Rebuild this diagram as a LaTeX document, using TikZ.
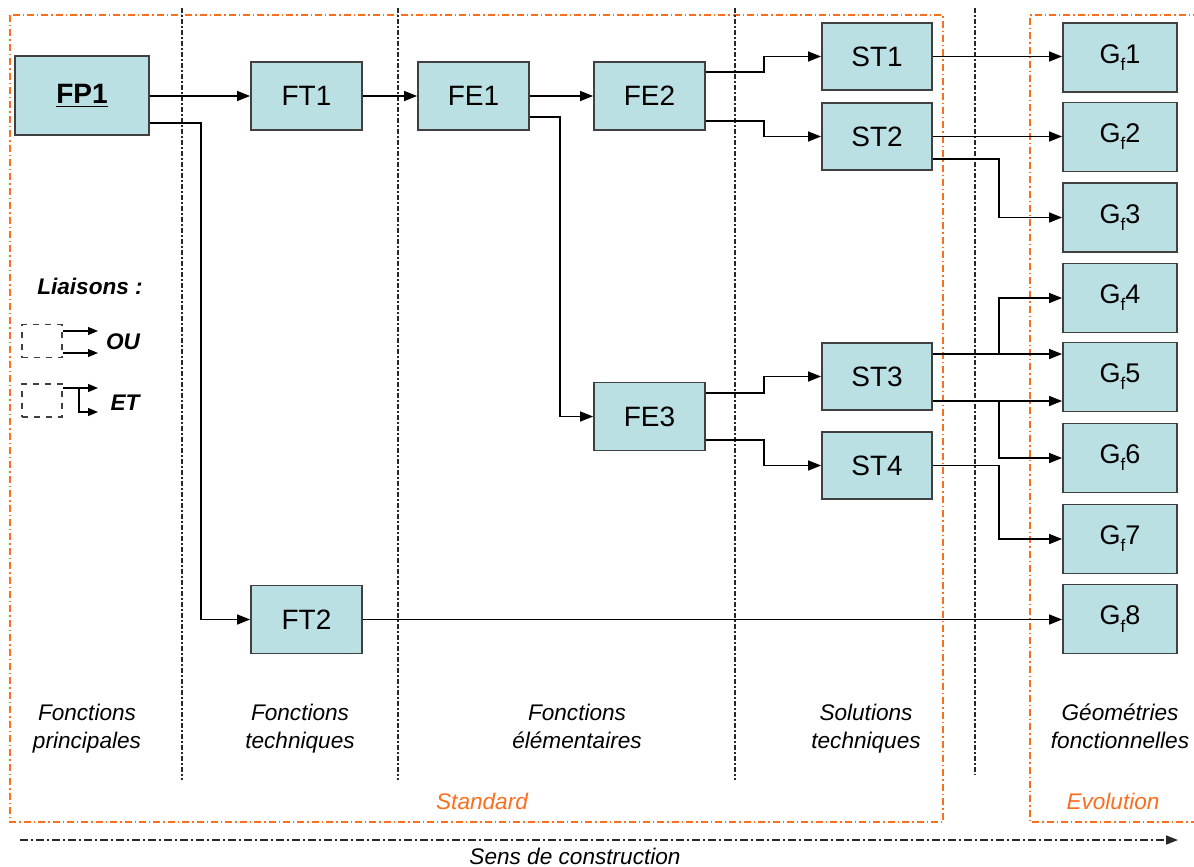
\documentclass[tikz,border=0pt]{standalone}
\usepackage{fontspec}
\setmainfont{Liberation Sans}
\usetikzlibrary{calc,arrows.meta}
\definecolor{boxfill}{RGB}{187,224,227}
\definecolor{boxline}{RGB}{64,64,64}
\definecolor{orng}{RGB}{250,110,30}
\definecolor{sepgray}{RGB}{40,40,40}
\newcommand{\Gsub}[1]{G\raisebox{-0.5ex}{\fontsize{8.5}{8.5}\selectfont f}#1}
\begin{document}
\begin{tikzpicture}[x=0.5pt,y=-0.5pt,
  fbox/.style={draw=boxline,line width=0.9pt,fill=boxfill,inner sep=0pt,
    minimum width=55.5pt,minimum height=34pt,font=\fontsize{14}{16}\selectfont},
  gbox/.style={fbox,minimum width=57pt,minimum height=34.5pt,font=\fontsize{13.5}{16}\selectfont},
  conn/.style={line width=0.75pt,draw=black,-{Triangle[length=6.5pt,width=5pt]}},
  sep/.style={draw=sepgray,line width=0.55pt,dash pattern=on 2.5pt off 1.2pt on 0.6pt off 1.2pt},
  orngbox/.style={draw=orng,line width=0.6pt,dash pattern=on 3.5pt off 1.5pt on 0.7pt off 1.5pt},
  collab/.style={align=center,font=\fontsize{11.3}{14}\selectfont\itshape},
  legtxt/.style={font=\fontsize{11.3}{14}\selectfont\bfseries\itshape},
  orngtxt/.style={text=orng,font=\fontsize{11.3}{14}\selectfont\itshape},
  legbox/.style={draw=boxline,line width=0.6pt,dashed,minimum width=20pt,minimum height=16.5pt,inner sep=0pt},
  legarr/.style={line width=0.6pt,-{Triangle[length=5pt,width=4pt]}}
]
\useasboundingbox (0,0) rectangle (1194,867);

% frames
\draw[orngbox] (10,15) rectangle (943,822);
\draw[orngbox] (1200,15) -- (1030,15) -- (1030,822) -- (1200,822);
\draw[sep] (182,8) -- (182,780);
\draw[sep] (398,8) -- (398,780);
\draw[sep] (735,8) -- (735,780);
\draw[sep] (975,8) -- (975,775);

% boxes
\node[fbox,minimum width=67pt,minimum height=39.5pt,font=\fontsize{14}{16}\selectfont\bfseries] (FP1) at (82,95.5) {\underline{FP1}};
\node[fbox] (FT1) at (306.5,96) {FT1};
\node[fbox] (FT2) at (306.5,619.5) {FT2};
\node[fbox] (FE1) at (473.5,96) {FE1};
\node[fbox] (FE2) at (649.5,96) {FE2};
\node[fbox] (FE3) at (649.5,416.5) {FE3};
\node[fbox,minimum width=55pt,minimum height=33.5pt] (ST1) at (877,56.5) {ST1};
\node[fbox,minimum width=55pt,minimum height=33.5pt] (ST2) at (877,136.5) {ST2};
\node[fbox,minimum width=55pt,minimum height=33.5pt] (ST3) at (877,376.5) {ST3};
\node[fbox,minimum width=55pt,minimum height=33.5pt] (ST4) at (877,465.5) {ST4};
\node[gbox] (G1) at (1120,57.5) {\Gsub{1}};
\node[gbox] (G2) at (1120,137) {\Gsub{2}};
\node[gbox] (G3) at (1120,217.5) {\Gsub{3}};
\node[gbox] (G4) at (1120,298) {\Gsub{4}};
\node[gbox] (G5) at (1120,377) {\Gsub{5}};
\node[gbox] (G6) at (1120,458) {\Gsub{6}};
\node[gbox] (G7) at (1120,539) {\Gsub{7}};
\node[gbox] (G8) at (1120,619) {\Gsub{8}};

% connectors
\draw[conn] (FP1.east |- FT1.west) -- (FT1.west);
\draw[conn] ($(FP1.east)+(0,27.5)$) -- ++(51,0) |- (FT2.west);
\draw[conn] (FT1.east) -- (FE1.west);
\draw[conn] (FE1.east) -- (FE2.west);
\draw[conn] ($(FE1.east)+(0,21)$) -- ++(30,0) |- (FE3.west);
\draw[conn] ($(FE2.east)+(0,-24)$) -- ++(58,0) |- (ST1.west);
\draw[conn] ($(FE2.east)+(0,25)$) -- ++(58,0) |- (ST2.west);
\draw[conn] ($(FE3.east)+(0,-23.5)$) -- ++(58,0) |- (ST3.west);
\draw[conn] ($(FE3.east)+(0,23.5)$) -- ++(58,0) |- (ST4.west);
\draw[conn] (ST1.east) -- (ST1.east -| G1.west);
\draw[conn] (ST2.east) -- (ST2.east -| G2.west);
\draw[conn] ($(ST2.east)+(0,22.5)$) -- ++(66,0) |- (G3.west);
\path ($(ST3.east)+(0,-22.5)$) coordinate (s3a);
\path ($(ST3.east)+(0,24.5)$) coordinate (s3b);
\draw[conn] (s3a) -- ++(66,0) |- (G4.west);
\draw[conn] (s3a) -- (s3a -| G5.west);
\draw[conn] (s3b) -- (s3b -| G5.west);
\draw[conn] (s3b) -- ++(66,0) |- (G6.west);
\draw[conn] (ST4.east) -- ++(66,0) |- (G7.west);
\draw[conn] (FT2.east) -- (FT2.east -| G8.west);

% legend
\node[legtxt] (liai) at (90,286) {Liaisons :};
\node[legbox] (lb1) at (42,341) {};
\node[legbox] (lb2) at (42,400.5) {};
\coordinate (ou1) at (98,331);
\coordinate (ou2) at (98,353);
\coordinate (et1) at (98,388);
\coordinate (et2) at (98,412);
\draw[legarr] (lb1.east |- ou1) -- (ou1);
\draw[legarr] (lb1.east |- ou2) -- (ou2);
\draw[legarr] (lb2.east |- et1) -- (et1);
\draw[legarr] (79,388) |- (et2);
\node[legtxt] (ou) at (123,342) {OU};
\node[legtxt] (et) at (125,403) {ET};

% column labels
\node[collab] (c1) at (87,729) {Fonctions\strut\\principales\strut};
\node[collab] (c2) at (300,729) {Fonctions\strut\\techniques\strut};
\node[collab] (c3) at (577,729) {Fonctions\strut\\élémentaires\strut};
\node[collab] (c4) at (866,729) {Solutions\strut\\techniques\strut};
\node[collab] (c5) at (1120,729) {Géométries\strut\\fonctionnelles\strut};
\node[orngtxt] (std) at (482,801) {Standard};
\node[orngtxt] (evo) at (1113,801) {Evolution};

% construction arrow
\coordinate (s0) at (20,840);
\coordinate (s1) at (1178,840);
\draw[draw=sepgray,line width=0.8pt,dash pattern=on 4pt off 1.5pt on 1pt off 1.5pt,-{Triangle[length=6pt,width=4.5pt]}] (s0) -- (s1);
\node[collab] (sens) at (575,856) {Sens de construction};
\end{tikzpicture}
\end{document}
